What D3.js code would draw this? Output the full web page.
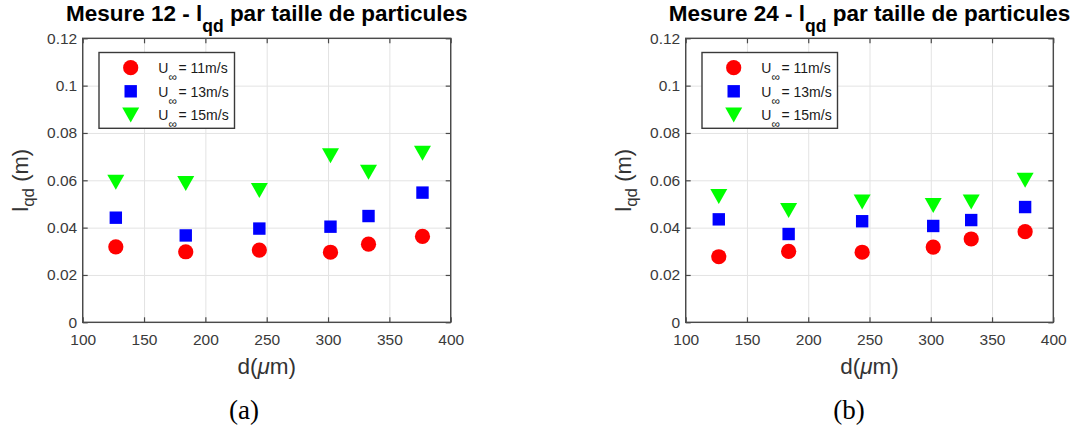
<!DOCTYPE html>
<html><head><meta charset="utf-8">
<script src="https://cdn.jsdelivr.net/npm/d3@7"></script>
<style>body{margin:0;background:#fff;} svg{display:block;}</style>
</head><body><svg id="c" width="1073" height="432"></svg>
<script>
// ---- data ----
const diameters = [127, 184, 244, 302, 333, 377];
const xTicks = [100, 150, 200, 250, 300, 350, 400];
const yTicks = [0, 0.02, 0.04, 0.06, 0.08, 0.1, 0.12];
const yTickLabels = ["0", "0.02", "0.04", "0.06", "0.08", "0.1", "0.12"];
const speeds = [11, 13, 15];
const panelTitles = ["Mesure 12", "Mesure 24"];
const panelCaptions = ["(a)", "(b)"];
const m12_u11 = [0.0319, 0.0298, 0.0305, 0.0296, 0.0330, 0.0363];
const m12_u13 = [0.0442, 0.0367, 0.0396, 0.0404, 0.0449, 0.0548];
const m12_u15 = [0.0592, 0.0587, 0.0557, 0.0704, 0.0634, 0.0714];
const m24_u11 = [0.0277, 0.0300, 0.0296, 0.0318, 0.0352, 0.0383];
const m24_u13 = [0.0435, 0.0373, 0.0427, 0.0407, 0.0432, 0.0487];
const m24_u15 = [0.0532, 0.0472, 0.0508, 0.0494, 0.0508, 0.0600];
const panelSeries = [[m12_u11, m12_u13, m12_u15], [m24_u11, m24_u13, m24_u15]];

// ---- style/layout ----
const colors = ["#ff0000", "#0000ff", "#00ff00"];
const shapes = ["circle", "square", "triangle"];
const layouts = [
  {x0: 82.7, x1: 450.7, capX: 244},
  {x0: 685.7, x1: 1053.3, capX: 849}
];
const yTop = 38.3, yBot = 322.3;
const FONT = "'Liberation Sans', Arial, Helvetica, sans-serif";
const svg = d3.select("#c");

function marker(g, shape, color, cx, cy) {
  if (shape === "circle") {
    g.append("circle").attr("cx", cx).attr("cy", cy).attr("r", 7.6).attr("fill", color);
  } else if (shape === "square") {
    g.append("rect").attr("x", cx - 6.2).attr("y", cy - 6.2).attr("width", 12.4).attr("height", 12.4).attr("fill", color);
  } else {
    const w = 17, h = 15;
    g.append("path").attr("d", `M${cx - w/2},${cy - h/2}L${cx + w/2},${cy - h/2}L${cx},${cy + h/2}Z`).attr("fill", color);
  }
}

panelTitles.forEach((title, pi) => {
  const L = layouts[pi];
  const x = d3.scaleLinear().domain([100, 400]).range([L.x0, L.x1]);
  const y = d3.scaleLinear().domain([0, 0.12]).range([yBot, yTop]);
  const W = L.x1 - L.x0, H = yBot - yTop;
  const g = svg.append("g");

  // grid
  g.append("g").attr("transform", `translate(0,${yBot})`)
    .call(d3.axisBottom(x).tickValues(xTicks).tickSize(-H).tickFormat(""))
    .call(s => { s.select(".domain").remove(); s.selectAll("line").attr("stroke", "#e3e3e3").attr("stroke-width", 1); });
  g.append("g").attr("transform", `translate(${L.x0},0)`)
    .call(d3.axisLeft(y).tickValues(yTicks).tickSize(-W).tickFormat(""))
    .call(s => { s.select(".domain").remove(); s.selectAll("line").attr("stroke", "#e3e3e3").attr("stroke-width", 1); });

  // axes with inward ticks
  const axColor = "#4a4a4a";
  const styleAx = s => {
    s.select(".domain").remove();
    s.selectAll("line").attr("stroke", axColor).attr("stroke-width", 1.2);
    s.selectAll("text").attr("fill", "#3a3a3a").style("font-family", FONT).style("font-size", "15.5px");
  };
  g.append("g").attr("transform", `translate(0,${yBot})`)
    .call(d3.axisBottom(x).tickValues(xTicks).tickSize(-5).tickPadding(12).tickFormat(d3.format("d")))
    .call(styleAx);
  g.append("g").attr("transform", `translate(0,${yTop})`)
    .call(d3.axisTop(x).tickValues(xTicks).tickSize(-5).tickFormat(""))
    .call(styleAx);
  g.append("g").attr("transform", `translate(${L.x0},0)`)
    .call(d3.axisLeft(y).tickValues(yTicks).tickSize(-5).tickPadding(5.5).tickFormat((d, i) => yTickLabels[i]))
    .call(styleAx);
  g.append("g").attr("transform", `translate(${L.x1},0)`)
    .call(d3.axisRight(y).tickValues(yTicks).tickSize(-5).tickFormat(""))
    .call(styleAx);
  g.append("rect").attr("x", L.x0).attr("y", yTop).attr("width", W).attr("height", H)
    .attr("fill", "none").attr("stroke", axColor).attr("stroke-width", 1.4);

  // data
  panelSeries[pi].forEach((vals, si) => {
    vals.forEach((v, k) => marker(g, shapes[si], colors[si], x(diameters[k]), y(v)));
  });

  // legend
  const lx = L.x0 + 16.3, ly = 52.5;
  g.append("rect").attr("x", lx).attr("y", ly).attr("width", 135.5).attr("height", 75.8)
    .attr("fill", "#fff").attr("stroke", "#3a3a3a").attr("stroke-width", 1.4);
  speeds.forEach((sp, si) => {
    const cy = ly + 15.2 + si * 23.6;
    marker(g, shapes[si], colors[si], lx + 31.7, cy);
    const t = g.append("text").attr("x", lx + 59.3).attr("y", cy + 5.4)
      .style("font-family", FONT).style("font-size", "14px").attr("fill", "#1a1a1a");
    t.append("tspan").text("U");
    t.append("tspan").attr("dy", 8).style("font-size", "12px").text("∞");
    t.append("tspan").attr("dy", -8).attr("dx", 1.5).text(`= ${sp}m/s`);
  });

  // title
  const cx = (L.x0 + L.x1) / 2;
  const tt = g.append("text").attr("x", cx).attr("y", 21).attr("text-anchor", "middle")
    .style("font-family", FONT).style("font-size", "22.5px").style("font-weight", "bold").attr("fill", "#000");
  tt.append("tspan").text(`${title} - l`);
  tt.append("tspan").attr("dy", 11).style("font-size", "17.5px").text("qd");
  tt.append("tspan").attr("dy", -11).text(" par taille de particules");

  // x label
  const xl = g.append("text").attr("x", cx).attr("y", 373.5).attr("text-anchor", "middle")
    .style("font-family", FONT).style("font-size", "22.5px").attr("fill", "#333");
  xl.append("tspan").text("d(");
  xl.append("tspan").style("font-style", "italic").text("μ");
  xl.append("tspan").text("m)");

  // y label
  const yl = g.append("text").attr("transform", `translate(${L.x0 - 55},${(yTop + yBot) / 2}) rotate(-90)`)
    .attr("text-anchor", "middle")
    .style("font-family", FONT).style("font-size", "22px").attr("fill", "#333");
  yl.append("tspan").text("l");
  yl.append("tspan").attr("dy", 6).style("font-size", "17px").text("qd");
  yl.append("tspan").attr("dy", -6).text(" (m)");

  // caption
  g.append("text").attr("x", L.capX).attr("y", 419).attr("text-anchor", "middle")
    .style("font-family", "'Liberation Serif', 'DejaVu Serif', serif").style("font-size", "27px")
    .attr("fill", "#000").text(panelCaptions[pi]);
});
</script></body></html>
